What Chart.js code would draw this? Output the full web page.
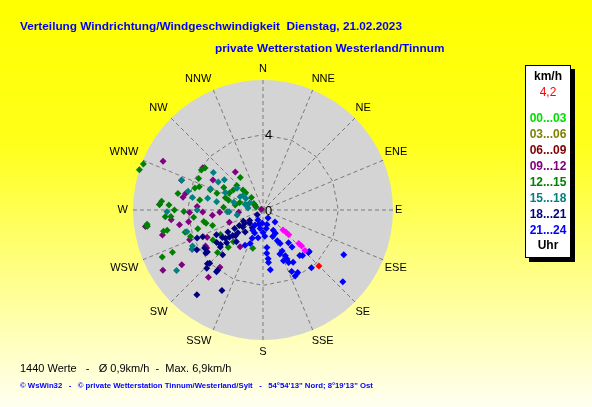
<!DOCTYPE html>
<html>
<head>
<meta charset="utf-8">
<script src="https://cdn.jsdelivr.net/npm/chart.js@4"></script>
<style>
  html, body { margin: 0; padding: 0; }
  body {
    width: 592px; height: 407px; overflow: hidden; position: relative;
    background: linear-gradient(to bottom, #ffff00 0%, #ffff1a 35%, #ffff90 70%, #fffff2 100%);
    font-family: "Liberation Sans", Arial, sans-serif;
  }
  #windChart { position: absolute; left: 0; top: 0; }
  .title { position: absolute; color: #0000ff; font-weight: bold; font-size: 11.8px; white-space: nowrap; }
  .legend {
    position: absolute; left: 525px; top: 65px; width: 44px; height: 191px;
    background: #fff; border: 1px solid #000; box-shadow: 4px 4px 0 #000;
  }
  .legend div { position: absolute; left: 0; width: 44px; text-align: center; font-weight: bold; font-size: 12px; white-space: nowrap; }
  .foot { position: absolute; white-space: nowrap; }
</style>
</head>
<body>
<canvas id="windChart" width="592" height="407"></canvas>
<div class="title" style="left:20px; top:19px;">Verteilung Windrichtung/Windgeschwindigkeit&nbsp; Dienstag, 21.02.2023</div>
<div class="title" style="left:215px; top:41px;">private Wetterstation Westerland/Tinnum</div>
<div class="legend" id="legend"></div>
<div class="foot" style="left:20px; top:362px; font-size:11px; color:#000;">1440 Werte &nbsp; - &nbsp; Ø 0,9km/h &nbsp;- &nbsp;Max. 6,9km/h</div>
<div class="foot" style="left:20px; top:381px; font-size:7.75px; color:#0000ff; font-weight:bold;">© WsWin32 &nbsp; - &nbsp; © private Wetterstation Tinnum/Westerland/Sylt &nbsp; - &nbsp; 54°54'13" Nord; 8°19'13" Ost</div>
<script>
// compass directions and rings
const dirLabels = ["N", "NNE", "NE", "ENE", "E", "ESE", "SE", "SSE",
                   "S", "SSW", "SW", "WSW", "W", "WNW", "NW", "NNW"];
const ringTicks = [0, 4];
const maxSpeed = 6.9;
const currentSpeed = "4,2";

// hour bins (Uhr)
const hourBins = ["00...03", "03...06", "06...09", "09...12", "12...15", "15...18", "18...21", "21...24"];
const binColors = ["#00e000", "#808000", "#800000", "#800080", "#008000", "#008080", "#000080", "#0000ff"];

// direction in degrees, speed in km/h
const dir0003 = [];
const spd0003 = [];
const dir0306 = [];
const spd0306 = [];
const dir0609 = [];
const spd0609 = [];

const dir0912 = [296, 324, 290, 282, 273, 268, 264, 260, 261, 256, 262, 248, 236, 212, 236, 239,
                 219, 217, 250, 267, 290, 273, 279, 301, 305, 268, 244, 264, 265, 238, 241, 300];
const spd0912 = [5.9, 2.5, 4.6, 4.2, 3.5, 3.9, 4.9, 4.5, 4.0, 5.5, 6.3, 4.2, 3.6, 2.3, 5.2, 6.2,
                 4.6, 3.8, 1.9, 2.3, 0.1, 5.5, 4.3, 3.1, 3.9, 3.2, 3.3, 2.7, 1.3, 3.6, 4.3, 0.5];

const dir1215 = [288, 291, 303, 306, 325, 296, 281, 288, 290, 291, 290, 288, 297, 315, 287, 287,
                 305, 275, 273, 270, 269, 266, 264, 259, 253, 258, 258, 254, 250, 254, 240, 223,
                 239, 245, 245, 195, 263, 227, 223, 304, 274, 257, 317, 293, 273, 266, 262, 313,
                 286, 315, 280, 300, 279];
const spd1215 = [6.9, 6.8, 3.9, 3.8, 2.1, 3.8, 4.6, 3.8, 3.6, 3.0, 2.6, 2.1, 2.0, 1.5, 1.3, 0.9,
                 0.6, 5.4, 5.0, 4.7, 4.2, 5.2, 3.7, 3.2, 2.8, 5.4, 5.2, 4.3, 4.1, 3.6, 2.6, 2.7,
                 3.1, 5.3, 5.9, 2.1, 6.2, 3.3, 2.3, 1.9, 2.1, 3.1, 0.9, 0.4, 5.5, 4.9, 6.2, 1.9,
                 1.9, 1.3, 1.5, 2.4, 3.4];

const dir1518 = [307, 302, 308, 284, 290, 282, 280, 300, 304, 267, 259, 269, 254, 241, 235, 278,
                 292, 307, 298, 285, 267, 280, 270, 243, 310, 295, 288];
const spd1518 = [3.3, 2.8, 2.6, 4.1, 4.6, 3.0, 2.5, 1.4, 1.1, 1.8, 1.4, 5.1, 4.2, 4.3, 5.6, 0.8,
                 3.0, 1.3, 0.8, 1.6, 1.9, 3.8, 3.5, 4.2, 1.8, 2.2, 1.0];

const dir1821 = [218, 207, 217, 226, 233, 222, 231, 235, 228, 247, 246, 233, 225, 217, 231, 228,
                 230, 232, 230, 237, 230, 237, 237, 219, 211, 238, 236, 224, 239, 225, 240, 233,
                 227, 220, 242, 234, 229];
const spd1821 = [5.7, 4.8, 4.1, 4.1, 3.8, 3.2, 2.9, 3.0, 2.6, 3.8, 3.5, 3.7, 4.0, 4.0, 2.3, 1.8,
                 1.4, 0.9, 0.4, 3.7, 2.1, 1.5, 1.8, 1.5, 1.1, 2.2, 2.6, 4.3, 4.1, 1.0, 1.2, 2.5,
                 2.0, 2.2, 2.8, 1.2, 3.0];

const dir2124 = [148, 180, 176, 153, 152, 155, 153, 142, 142, 174, 175, 174, 174, 173, 155, 154,
                 158, 154, 155, 154, 151, 139, 132, 140, 119, 132, 201, 207, 201, 184, 207, 159,
                 154, 150, 141, 133, 207, 208, 189, 135, 165, 195, 170, 200, 190, 160];
const spd2124 = [0.5, 1.2, 1.4, 1.2, 1.4, 1.8, 2.0, 2.2, 2.5, 2.0, 2.3, 2.6, 2.8, 3.2, 2.4, 2.7,
                 2.9, 3.1, 3.6, 3.9, 3.8, 3.2, 3.3, 4.0, 4.9, 5.7, 1.6, 1.2, 1.9, 0.7, 2.1, 2.5,
                 2.9, 3.2, 3.1, 3.3, 0.6, 0.9, 1.0, 0.9, 0.8, 0.8, 1.0, 1.3, 1.5, 1.5];

// last hour and current value
const dirRecent = [135, 134, 134, 133, 133, 134];
const spdRecent = [1.5, 1.7, 1.9, 2.6, 2.8, 3.1];
const dirNow = [135];
const spdNow = [4.2];

const binDirs = [dir0003, dir0306, dir0609, dir0912, dir1215, dir1518, dir1821, dir2124];
const binSpeeds = [spd0003, spd0306, spd0609, spd0912, spd1215, spd1518, spd1821, spd2124];

function toPoints(dirs, speeds) {
    return dirs.map((d, i) => {
        const a = d * Math.PI / 180;
        return { x: speeds[i] * Math.sin(a), y: speeds[i] * Math.cos(a) };
    });
}

function pointSet(label, dirs, speeds, color, order) {
    return {
        label: label,
        data: toPoints(dirs, speeds),
        backgroundColor: color,
        borderWidth: 0,
        pointStyle: "rectRot",
        pointRadius: 3.5,
        order: order,
        clip: false,
    };
}

const datasets = hourBins.map((h, i) => pointSet(h, binDirs[i], binSpeeds[i], binColors[i], 10 - i));
datasets.push(pointSet("recent", dirRecent, spdRecent, "#ff00ff", 1));
datasets.push(pointSet("now", dirNow, spdNow, "#ff0000", 0));

// legend box
const legendEl = document.getElementById("legend");
function legendLine(text, top, color, weight) {
    const d = document.createElement("div");
    d.textContent = text;
    d.style.top = top + "px";
    d.style.color = color;
    if (weight) d.style.fontWeight = weight;
    legendEl.appendChild(d);
}
legendLine("km/h", 3, "#000");
legendLine(currentSpeed, 19, "#ff0000", "normal");
hourBins.forEach((h, i) => legendLine(h, 45 + i * 16, binColors[i]));
legendLine("Uhr", 172, "#000");

const polarGrid = {
    id: "polarGrid",
    beforeDatasetsDraw(chart) {
        const { ctx } = chart;
        const xs = chart.scales.x;
        const ys = chart.scales.y;
        const cx = xs.getPixelForValue(0);
        const cy = ys.getPixelForValue(0);
        const R = xs.getPixelForValue(maxSpeed) - cx;
        const pos = (v, k) => {
            const a = k * Math.PI / 8;
            return [xs.getPixelForValue(v * Math.sin(a)), ys.getPixelForValue(v * Math.cos(a))];
        };
        ctx.save();
        ctx.fillStyle = "#d4d4d4";
        ctx.beginPath();
        ctx.arc(cx, cy, R, 0, Math.PI * 2);
        ctx.fill();

        ctx.strokeStyle = "#7a7a7a";
        ctx.lineWidth = 1;
        ctx.setLineDash([4, 3]);
        dirLabels.forEach((lab, k) => {
            const [px, py] = pos(maxSpeed, k);
            ctx.beginPath();
            ctx.moveTo(cx, cy);
            ctx.lineTo(px, py);
            ctx.stroke();
        });
        ringTicks.filter(t => t > 0).forEach(t => {
            ctx.beginPath();
            dirLabels.forEach((lab, k) => {
                const [px, py] = pos(t, k);
                if (k === 0) ctx.moveTo(px, py); else ctx.lineTo(px, py);
            });
            ctx.closePath();
            ctx.stroke();
        });
        ctx.setLineDash([]);

        // compass labels: anchored just outside the disc
        ctx.fillStyle = "#000";
        ctx.font = "11px 'Liberation Sans', Arial, sans-serif";
        ctx.textBaseline = "middle";
        const lr = maxSpeed * (R + 5) / R;
        dirLabels.forEach((lab, k) => {
            const [px, py] = pos(lr, k);
            const s = Math.round(Math.sin(k * Math.PI / 8) * 100) / 100;
            const c = Math.round(Math.cos(k * Math.PI / 8) * 100) / 100;
            let tx = px;
            if (s > 0) { ctx.textAlign = "left"; tx = px - 3; }
            else if (s < 0) { ctx.textAlign = "right"; tx = px; }
            else ctx.textAlign = "center";
            const ty = py - 6.5 * Math.sign(c);
            ctx.fillText(lab, tx, ty);
        });

        ctx.font = "13px 'Liberation Sans', Arial, sans-serif";
        ctx.textAlign = "left";
        ringTicks.forEach(t => {
            ctx.fillText(String(t), cx + 2, ys.getPixelForValue(t) + 1);
        });
        ctx.restore();
    }
};

new Chart(document.getElementById("windChart"), {
    type: "scatter",
    data: { datasets: datasets },
    options: {
        responsive: false,
        animation: false,
        layout: { padding: { left: 133, right: 199, top: 80, bottom: 67 } },
        scales: {
            x: { type: "linear", min: -maxSpeed, max: maxSpeed, display: false },
            y: { type: "linear", min: -maxSpeed, max: maxSpeed, display: false },
        },
        plugins: { legend: { display: false }, tooltip: { enabled: false } },
    },
    plugins: [polarGrid],
});
</script>
</body>
</html>
